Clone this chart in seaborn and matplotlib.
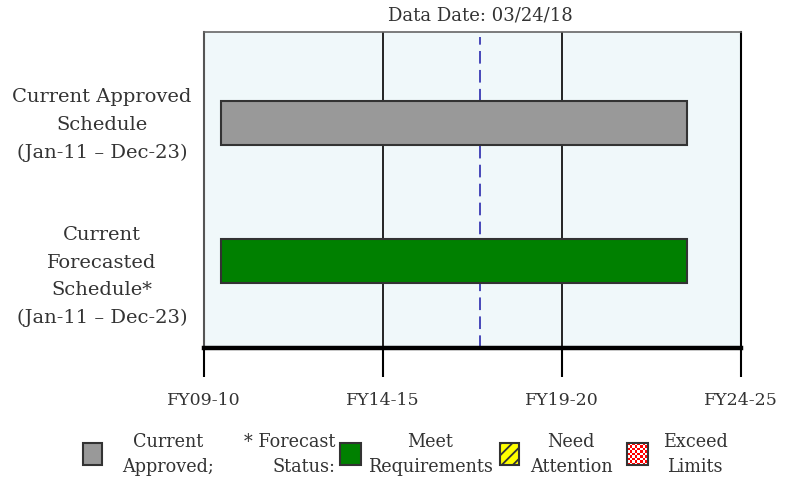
import numpy as np
import pandas as pd
import matplotlib
matplotlib.use("Agg")
import matplotlib.pyplot as plt
import seaborn as sns
from matplotlib.patches import Rectangle

# Schedule rows (decimal years; Jan-11 start, end of Dec-23)
row_keys = ["approved", "forecast"]
row_labels = ["Current Approved\nSchedule\n(Jan-11 \u2013 Dec-23)",
              "Current\nForecasted\nSchedule*\n(Jan-11 \u2013 Dec-23)"]
start_year = [2011.0, 2011.0]
end_year = [2024.0, 2024.0]
bar_colors = ["#999999", "#008000"]

# Status date 03/24/18
data_date = 2018 + 83 / 365
data_date_label = "Data Date: 03/24/18"

# Fiscal-year axis
fy_ticks = [2010.52, 2015.52, 2020.52, 2025.52]
fy_labels = ["FY09-10", "FY14-15", "FY19-20", "FY24-25"]

# Legend entries
legend_labels = ["Current\nApproved;", "* Forecast\nStatus:", "Meet\nRequirements",
                 "Need\nAttention", "Exceed\nLimits"]

sns.set_style("white")
plt.rcParams["font.family"] = ["DejaVu Serif"]
text_color = "#333333"

df = pd.DataFrame({"row": row_keys, "start": start_year, "end": end_year})

fig = plt.figure(figsize=(7.91, 4.81), dpi=100)
ax = fig.add_axes([0.258, 0.2744, 0.679, 0.657])

sns.barplot(data=df, x="end", y="row", hue="row", palette=bar_colors,
            width=0.32, orient="h", ax=ax, legend=False,
            edgecolor="#333333", linewidth=1.5, zorder=3, saturation=1)
# turn the bars into spans from start to end
for patch, s, e in zip(ax.patches, df["start"], df["end"]):
    patch.set_x(s)
    patch.set_width(e - s)

ax.set_xlim(fy_ticks[0], fy_ticks[-1])
ax.set_ylim(1.63, -0.66)
ax.set_facecolor("#f0f8fa")
ax.set_xlabel("")
ax.set_ylabel("")
ax.set_yticks([])
ax.set_xticks(fy_ticks, fy_labels)
ax.set_axisbelow(True)
ax.grid(axis="x", color="black", lw=1.2)
ax.tick_params(axis="x", length=21, width=1.5, pad=10, labelsize=12.5,
               color="black", labelcolor=text_color, bottom=True)

ax.axvline(data_date, ymax=0.985, color="#3a3ab4", lw=1.3,
           ls=(0, (7, 3.5)), zorder=1)

for side, lw, col in [("bottom", 3.2, "black"), ("left", 1.5, "#555555"),
                      ("right", 1.5, "black"), ("top", 1.2, "#666666")]:
    ax.spines[side].set_linewidth(lw)
    ax.spines[side].set_color(col)
    ax.spines[side].set_visible(True)

ax.annotate(data_date_label, xy=(data_date, 1), xycoords=("data", "axes fraction"),
            xytext=(0, 6), textcoords="offset points", ha="center", va="bottom",
            fontsize=13, color=text_color)

# row labels, top-aligned with each bar
for i, lab in enumerate(row_labels):
    ax.annotate(lab, xy=(0.129, i - 0.16), xycoords=("figure fraction", "data"),
                xytext=(0, 10), textcoords="offset points", ha="center", va="top",
                multialignment="center", fontsize=14, linespacing=1.68,
                color=text_color, annotation_clip=False)

# legend strip drawn in pixel coordinates
lax = fig.add_axes([0, 0, 1, 1])
lax.set_axis_off()

lax.add_patch(Rectangle((83, 444), 19, 22, fc=bar_colors[0], ec="#333333", lw=1.5))
lax.add_patch(Rectangle((340, 444), 21, 22, fc=bar_colors[1], ec="#333333", lw=1.5))
plt.rcParams["hatch.linewidth"] = 1.3
lax.add_patch(Rectangle((500, 444), 19, 22, fc="#ffff00", ec="#333333", lw=1.5, hatch="///"))
checker = (np.indices((9, 8)).sum(axis=0) % 2).astype(float)
lax.imshow(checker, cmap=matplotlib.colors.ListedColormap(["#ff0000", "#ffffff"]),
           extent=(627, 648, 466, 444), interpolation="nearest", aspect="auto", zorder=2)
lax.add_patch(Rectangle((627, 444), 21, 22, fc="none", ec="#333333", lw=1.5, zorder=3))
lax.set_xlim(0, 791)
lax.set_ylim(481, 0)

leg_kw = dict(fontsize=12.7, color=text_color, va="center", linespacing=1.5)
lax.text(168, 455, legend_labels[0], ha="center", multialignment="center", **leg_kw)
lax.text(335, 455, legend_labels[1], ha="right", multialignment="right", **leg_kw)
lax.text(430, 455, legend_labels[2], ha="center", multialignment="center", **leg_kw)
lax.text(571, 455, legend_labels[3], ha="center", multialignment="center", **leg_kw)
lax.text(695, 455, legend_labels[4], ha="center", multialignment="center", **leg_kw)

fig.savefig("out.png", dpi=100)
